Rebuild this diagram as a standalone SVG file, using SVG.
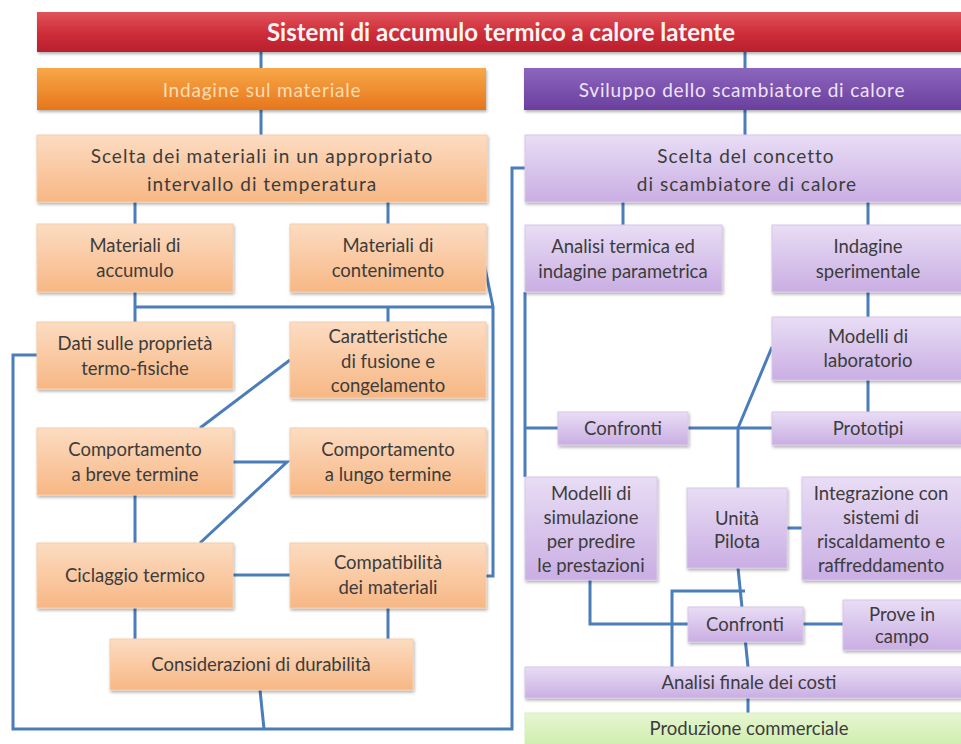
<svg xmlns="http://www.w3.org/2000/svg" width="961" height="744" viewBox="0 0 961 744">
<defs>
<linearGradient id="gOr" x1="0" y1="0" x2="0" y2="1"><stop offset="0" stop-color="#FCDCC2"/><stop offset="1" stop-color="#F7B784"/></linearGradient>
<linearGradient id="gPu" x1="0" y1="0" x2="0" y2="1"><stop offset="0" stop-color="#E9DDF5"/><stop offset="1" stop-color="#C9AEE3"/></linearGradient>
<linearGradient id="gGr" x1="0" y1="0" x2="0" y2="1"><stop offset="0" stop-color="#E6F6D2"/><stop offset="1" stop-color="#CBEBA6"/></linearGradient>
<linearGradient id="gRed" x1="0" y1="0" x2="0" y2="1"><stop offset="0" stop-color="#E0535B"/><stop offset="0.5" stop-color="#CF2F3B"/><stop offset="1" stop-color="#B81F2D"/></linearGradient>
<linearGradient id="gHo" x1="0" y1="0" x2="0" y2="1"><stop offset="0" stop-color="#F8A848"/><stop offset="1" stop-color="#E6761C"/></linearGradient>
<linearGradient id="gHp" x1="0" y1="0" x2="0" y2="1"><stop offset="0" stop-color="#8C66BD"/><stop offset="1" stop-color="#6A3F9E"/></linearGradient>
<filter id="sh" x="-5%" y="-10%" width="110%" height="130%"><feDropShadow dx="1" dy="2" stdDeviation="1.5" flood-color="#000" flood-opacity="0.3"/></filter>
</defs>
<style>
.o{fill:url(#gOr);stroke:#F6CDA9;stroke-width:1;filter:url(#sh)}
.p{fill:url(#gPu);stroke:#D8C8EA;stroke-width:1;filter:url(#sh)}
.g{fill:url(#gGr);stroke:#D6EFBC;stroke-width:1}
.t{font-family:Lato,"Liberation Sans",sans-serif;font-size:18.5px;fill:#3C3C3C;text-anchor:middle}
.s{font-size:19px;letter-spacing:1px}
.h{font-family:Lato,"Liberation Sans",sans-serif;font-size:19px;letter-spacing:0.8px;text-anchor:middle}
.c{fill:none;stroke:#4A7DBA;stroke-width:3}
</style>
<rect width="961" height="744" fill="#FFFFFF"/>
<g id="connectors" class="c">
<path d="M261 52V68M745 52V68M261 110V135M745 110V135"/>
<path d="M135 202V224M388 202V224M135 292V322M135 307H493M388 307V322"/>
<path d="M483 258L493 307V576H486"/>
<path d="M37 355H13V729H512V168H525"/>
<path d="M260 690L264 729"/>
<path d="M290 360L200 428"/>
<path d="M233 462H287L200 543"/>
<path d="M135 495V543M233 575H290M135 608V639M388 608V639"/>
<path d="M623 202V225M868 202V225M868 292V317M868 380V412"/>
<path d="M525 292V477M525 428H558M688 428H772"/>
<path d="M738 488V428L772 347"/>
<path d="M787 528H802"/>
<path d="M590 580V624H688M803 624H843"/>
<path d="M738 568L748 667"/>
<path d="M672 667V591H745"/>
<path d="M748 698V713"/>
</g>
<g id="title"><rect x="37" y="12" width="930" height="40" fill="url(#gRed)" filter="url(#sh)"/><text x="267" y="41" font-family="Lato, 'Liberation Sans', sans-serif" font-weight="bold" font-size="24" textLength="468" lengthAdjust="spacing" fill="#FFF4F4">Sistemi di accumulo termico a calore latente</text></g>
<g id="h_materiale"><rect x="37" y="68" width="449" height="42" fill="url(#gHo)" filter="url(#sh)"/><text class="h" x="262" y="97" fill="#FDDDB0">Indagine sul materiale</text></g>
<g id="h_scambiatore"><rect x="524" y="68" width="443" height="42" fill="url(#gHp)" filter="url(#sh)"/><text class="h" x="742" y="97" fill="#EEE4F8">Sviluppo dello scambiatore di calore</text></g>

<g id="scelta_mat"><rect class="o" x="37" y="135" width="450" height="67"/><text class="t s" x="262" y="163">Scelta dei materiali in un appropriato</text><text class="t s" x="262" y="191">intervallo di temperatura</text></g>
<g id="accumulo"><rect class="o" x="37" y="224" width="196" height="68"/><text class="t" x="135" y="252">Materiali di</text><text class="t" x="135" y="277">accumulo</text></g>
<g id="contenimento"><rect class="o" x="290" y="224" width="196" height="68"/><text class="t" x="388" y="252">Materiali di</text><text class="t" x="388" y="277">contenimento</text></g>
<g id="dati"><rect class="o" x="37" y="322" width="196" height="67"/><text class="t" x="135" y="350">Dati sulle proprietà</text><text class="t" x="135" y="375">termo-fisiche</text></g>
<g id="caratteristiche"><rect class="o" x="290" y="322" width="196" height="76"/><text class="t" x="388" y="343">Caratteristiche</text><text class="t" x="388" y="368">di fusione  e</text><text class="t" x="388" y="392">congelamento</text></g>
<g id="breve"><rect class="o" x="37" y="428" width="196" height="67"/><text class="t" x="135" y="456">Comportamento</text><text class="t" x="135" y="481">a breve termine</text></g>
<g id="lungo"><rect class="o" x="290" y="428" width="196" height="67"/><text class="t" x="388" y="456">Comportamento</text><text class="t" x="388" y="481">a lungo termine</text></g>
<g id="ciclaggio"><rect class="o" x="37" y="543" width="196" height="65"/><text class="t" x="135" y="582">Ciclaggio termico</text></g>
<g id="compatibilita"><rect class="o" x="290" y="543" width="196" height="65"/><text class="t" x="388" y="569">Compatibilità</text><text class="t" x="388" y="594">dei materiali</text></g>
<g id="durabilita"><rect class="o" x="110" y="639" width="303" height="51"/><text class="t" x="261" y="671">Considerazioni di durabilità</text></g>

<g id="scelta_conc"><rect class="p" x="525" y="135" width="442" height="67"/><text class="t s" x="746" y="163">Scelta del concetto</text><text class="t s" x="747" y="191">di scambiatore di calore</text></g>
<g id="analisi_term"><rect class="p" x="525" y="225" width="197" height="67"/><text class="t" x="623" y="253">Analisi termica ed</text><text class="t" x="623" y="278">indagine parametrica</text></g>
<g id="indagine_sper"><rect class="p" x="772" y="225" width="195" height="67"/><text class="t" x="868" y="253">Indagine</text><text class="t" x="868" y="278">sperimentale</text></g>
<g id="modelli_lab"><rect class="p" x="772" y="317" width="195" height="63"/><text class="t" x="868" y="343">Modelli di</text><text class="t" x="868" y="367">laboratorio</text></g>
<g id="confronti1"><rect class="p" x="558" y="412" width="130" height="33"/><text class="t" x="623" y="435">Confronti</text></g>
<g id="prototipi"><rect class="p" x="772" y="412" width="195" height="33"/><text class="t" x="868" y="435">Prototipi</text></g>
<g id="modelli_sim"><rect class="p" x="525" y="477" width="132" height="103"/><text class="t" x="591" y="500">Modelli di</text><text class="t" x="591" y="524">simulazione</text><text class="t" x="591" y="548">per predire</text><text class="t" x="591" y="572">le prestazioni</text></g>
<g id="unita"><rect class="p" x="687" y="488" width="100" height="80"/><text class="t" x="737" y="525">Unità</text><text class="t" x="737" y="548">Pilota</text></g>
<g id="integrazione"><rect class="p" x="802" y="477" width="165" height="103"/><text class="t" x="881" y="500">Integrazione con</text><text class="t" x="881" y="524">sistemi di</text><text class="t" x="881" y="548">riscaldamento e</text><text class="t" x="881" y="572">raffreddamento</text></g>
<g id="confronti2"><rect class="p" x="688" y="607" width="115" height="35"/><text class="t" x="745" y="631">Confronti</text></g>
<g id="prove"><rect class="p" x="843" y="600" width="124" height="50"/><text class="t" x="902" y="621">Prove in</text><text class="t" x="902" y="643">campo</text></g>
<g id="analisi_fin"><rect class="p" x="525" y="667" width="442" height="31"/><text class="t" x="749" y="689">Analisi finale  dei costi</text></g>
<g id="produzione"><rect class="g" x="525" y="713" width="442" height="40"/><text class="t" x="749" y="735">Produzione  commerciale</text></g>
</svg>
